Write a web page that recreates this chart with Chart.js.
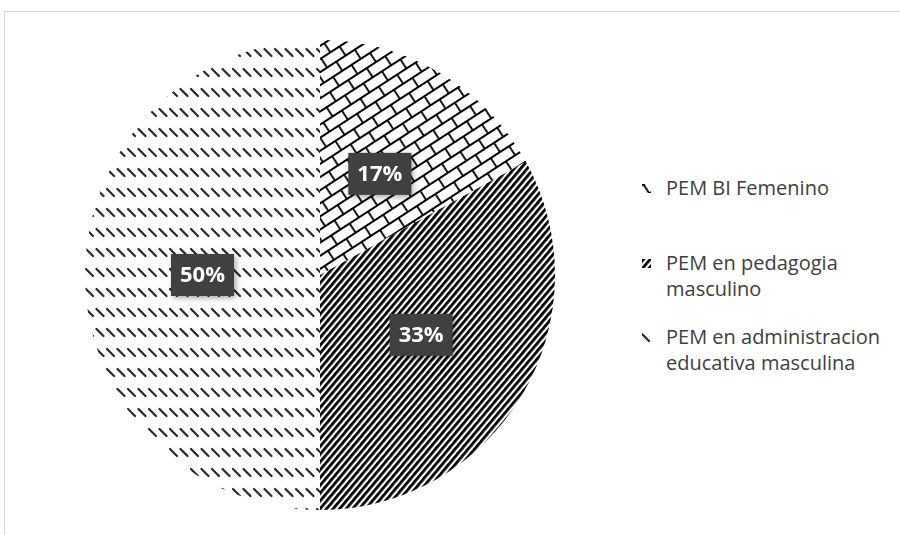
<!DOCTYPE html>
<html>
<head>
<meta charset="utf-8">
<script src="https://cdn.jsdelivr.net/npm/chart.js@4.4.1/dist/chart.umd.min.js"></script>
<style>
    body { margin: 0; background: #fff; overflow: hidden; width: 900px; height: 535px; position: relative; font-family: "Open Sans", sans-serif; }
    .frame { position: absolute; left: 4px; top: 11px; width: 920px; height: 600px; border: 1px solid #d9d9d9; box-sizing: border-box; }
    .chart-box { position: absolute; left: 85px; top: 40px; width: 470px; height: 470px; }
    .legend { position: absolute; left: 642px; top: 0; color: #404040; font-size: 20px; line-height: 26px; }
    .legend-item { position: absolute; left: 0; padding-left: 24px; white-space: nowrap; }
    .legend-item canvas { position: absolute; left: 0; top: 9px; width: 9px; height: 9px; }
</style>
</head>
<body>
<div class="frame"></div>
<div class="chart-box"><canvas id="pie-cal"></canvas></div>
<div class="legend" id="legend"></div>

<script>
const categories = ["PEM BI Femenino", "PEM en pedagogia masculino", "PEM en administracion educativa masculina"];
const legendLines = [["PEM BI Femenino"], ["PEM en pedagogia", "masculino"], ["PEM en administracion", "educativa masculina"]];
const percents = [17, 33, 50];

// pattern builders
function makeTile(w, h, draw) {
    const c = document.createElement("canvas");
    c.width = w;
    c.height = h;
    const g = c.getContext("2d");
    g.fillStyle = "#fff";
    g.fillRect(0, 0, w, h);
    draw(g);
    return c;
}

function rotated(ctx, tile, deg) {
    const p = ctx.createPattern(tile, "repeat");
    p.setTransform(new DOMMatrix().rotate(deg));
    return p;
}

function brickPattern(ctx) {
    const tile = makeTile(22, 22, g => {
        g.strokeStyle = "#000";
        g.lineWidth = 1.8;
        g.beginPath();
        g.moveTo(0, 1); g.lineTo(22, 1);
        g.moveTo(0, 12); g.lineTo(22, 12);
        g.moveTo(1, 1); g.lineTo(1, 12);
        g.moveTo(12, 12); g.lineTo(12, 23);
        g.stroke();
    });
    return rotated(ctx, tile, -33);
}

function stripePattern(ctx) {
    const tile = makeTile(10, 5, g => {
        g.fillStyle = "#000";
        g.fillRect(0, 0, 10, 2.8);
    });
    return rotated(ctx, tile, -50);
}

function dashPattern(ctx) {
    const tile = makeTile(21, 20, g => {
        g.strokeStyle = "#2a2a2a";
        g.lineWidth = 2.2;
        g.lineCap = "round";
        g.beginPath();
        g.moveTo(1, 9); g.lineTo(8, 16);
        g.moveTo(11.5, 9); g.lineTo(18.5, 16);
        g.stroke();
    });
    return ctx.createPattern(tile, "repeat");
}

const ctx = document.getElementById("pie-cal");
const c2d = ctx.getContext("2d");
const fills = [brickPattern(c2d), stripePattern(c2d), dashPattern(c2d)];

// dark boxed percent labels in the middle of each slice
const boxLabels = {
    id: "boxLabels",
    afterDatasetsDraw(chart) {
        const g = chart.ctx;
        const meta = chart.getDatasetMeta(0);
        meta.data.forEach((arc, i) => {
            const mid = (arc.startAngle + arc.endAngle) / 2;
            const r = arc.outerRadius * 0.5;
            const x = arc.x + Math.cos(mid) * r;
            const y = arc.y + Math.sin(mid) * r;
            const w = 63, h = 42;
            g.save();
            g.shadowColor = "rgba(0,0,0,0.35)";
            g.shadowBlur = 6;
            g.shadowOffsetX = 2;
            g.shadowOffsetY = 2;
            g.fillStyle = "#404040";
            g.fillRect(x - w / 2, y - h / 2, w, h);
            g.restore();
            g.save();
            g.fillStyle = "#fff";
            g.font = "bold 22px 'Open Sans', sans-serif";
            g.textAlign = "center";
            g.textBaseline = "middle";
            g.fillText(percents[i] + "%", x, y + 1);
            g.restore();
        });
    }
};

new Chart(ctx, {
    type: "pie",
    data: {
        labels: categories,
        datasets: [{
            data: percents,
            backgroundColor: fills,
            borderWidth: 0
        }]
    },
    options: {
        responsive: true,
        maintainAspectRatio: false,
        animation: false,
        layout: { padding: 0 },
        plugins: {
            legend: { display: false },
            tooltip: { enabled: false }
        }
    },
    plugins: [boxLabels]
});

// legend with little pattern swatches
const legend = document.getElementById("legend");
const legendTops = [175, 250, 324];
const swatchShift = [[0, 0], [0, 0], [-1, -8]];
legendLines.forEach((lines, i) => {
    const item = document.createElement("div");
    item.className = "legend-item";
    item.style.top = legendTops[i] + "px";
    const sw = document.createElement("canvas");
    sw.width = 9;
    sw.height = 9;
    const sg = sw.getContext("2d");
    const pats = [brickPattern(sg), stripePattern(sg), dashPattern(sg)];
    sg.translate(swatchShift[i][0], swatchShift[i][1]);
    sg.fillStyle = pats[i];
    sg.fillRect(-swatchShift[i][0], -swatchShift[i][1], 9, 9);
    item.appendChild(sw);
    lines.forEach(t => {
        const d = document.createElement("div");
        d.textContent = t;
        item.appendChild(d);
    });
    legend.appendChild(item);
});
</script>
</body>
</html>
